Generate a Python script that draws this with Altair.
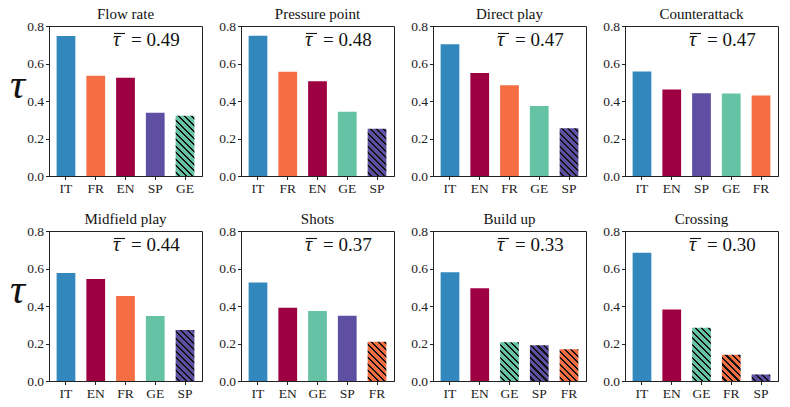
import altair as alt

TITLES = ["Flow rate", "Pressure point", "Direct play", "Counterattack",
          "Midfield play", "Shots", "Build up", "Crossing"]
ORDERS = [
    ["IT", "FR", "EN", "SP", "GE"],
    ["IT", "FR", "EN", "GE", "SP"],
    ["IT", "EN", "FR", "GE", "SP"],
    ["IT", "EN", "SP", "GE", "FR"],
    ["IT", "EN", "FR", "GE", "SP"],
    ["IT", "EN", "GE", "SP", "FR"],
    ["IT", "EN", "GE", "SP", "FR"],
    ["IT", "EN", "GE", "FR", "SP"],
]
VALUES = [
    [0.747, 0.535, 0.524, 0.338, 0.322],
    [0.748, 0.556, 0.505, 0.343, 0.252],
    [0.703, 0.550, 0.484, 0.373, 0.255],
    [0.558, 0.462, 0.441, 0.440, 0.430],
    [0.576, 0.544, 0.453, 0.347, 0.272],
    [0.525, 0.391, 0.373, 0.348, 0.210],
    [0.580, 0.495, 0.207, 0.191, 0.169],
    [0.684, 0.382, 0.284, 0.140, 0.035],
]
HATCHED = [["GE"], ["SP"], ["SP"], [], ["SP"], ["FR"],
           ["GE", "SP", "FR"], ["GE", "FR", "SP"]]
MEANS = [0.49, 0.48, 0.47, 0.47, 0.44, 0.37, 0.33, 0.30]
COLORS = {"IT": "#3288bd", "FR": "#f46d43", "EN": "#9e0142",
          "SP": "#5e4fa2", "GE": "#66c2a5"}

FONT = "Liberation Serif"
INK = "#111111"
W, H = 153, 150
PI, PO = 0.37, 0.256
YMAX = 0.8
STEP = W / (5 - PI + 2 * PO)
BW = STEP * (1 - PI)
PERIOD, LINE, PHASE = 6.5, 2.2, 3.0


def hatch(color, v):
    w = BW
    h = max(v / YMAX * H, 0.5)
    S = w + h
    a = w * (w + h) / (w * w + h * h)
    y2 = 1 - a * h / w
    stops = [{"offset": 0, "color": color}]
    s0 = PHASE
    while s0 < S:
        s1 = min(s0 + LINE, S)
        o0, o1 = round(s0 / S, 5), round(s1 / S, 5)
        stops += [{"offset": o0, "color": color}, {"offset": o0, "color": INK},
                  {"offset": o1, "color": INK}, {"offset": o1, "color": color}]
        s0 += PERIOD
    stops.append({"offset": 1, "color": color})
    return {"gradient": "linear", "x1": 0, "y1": 1, "x2": round(a, 5),
            "y2": round(y2, 5), "stops": stops}


def panel(i, first):
    recs = []
    for c, v in zip(ORDERS[i], VALUES[i]):
        f = hatch(COLORS[c], v) if c in HATCHED[i] else COLORS[c]
        recs.append({"c": c, "v": v, "f": f})
    yaxis = alt.Axis(values=[0, 0.2, 0.4, 0.6, 0.8], format=".1f",
                     title="τ" if first else "", titleAngle=0,
                     titleFont=FONT, titleFontSize=42, titleFontStyle="italic",
                     titleFontWeight="normal", titleColor=INK,
                     titleAlign="center", titleBaseline="alphabetic",
                     titleX=-32, titleY=71)
    bars = alt.Chart(alt.Data(values=recs)).mark_bar().encode(
        x=alt.X("c:N", sort=ORDERS[i],
                scale=alt.Scale(paddingInner=PI, paddingOuter=PO),
                axis=alt.Axis(title="", labelAngle=0)),
        y=alt.Y("v:Q", scale=alt.Scale(domain=[0, YMAX]), axis=yaxis),
        fill=alt.Fill("f:N", scale=None),
    )
    ann = alt.Data(values=[{"tau": "τ", "eq": f"= {MEANS[i]:.2f}"}])
    tau = alt.Chart(ann).mark_text(
        align="left", baseline="alphabetic", font=FONT, fontSize=20,
        fontStyle="italic", color=INK
    ).encode(text="tau:N", x=alt.value(64), y=alt.value(20))
    bar_over = alt.Chart(ann).mark_rule(color=INK, strokeWidth=1.1).encode(
        x=alt.value(65), x2=alt.value(76), y=alt.value(7.5))
    eq = alt.Chart(ann).mark_text(
        align="left", baseline="alphabetic", font=FONT, fontSize=19, color=INK
    ).encode(text="eq:N", x=alt.value(82), y=alt.value(20))
    return alt.layer(bars, tau, bar_over, eq).properties(
        width=W, height=H,
        title=alt.TitleParams(TITLES[i], font=FONT, fontSize=15,
                              fontWeight="normal", color=INK, offset=-3))


row1 = alt.hconcat(*[panel(i, i == 0) for i in range(4)], spacing=15)
row2 = alt.hconcat(*[panel(i, i == 4) for i in range(4, 8)], spacing=15)
chart = alt.vconcat(row1, row2, spacing=15).properties(
    padding={"left": 8, "top": 6, "right": 5, "bottom": 5}
).configure_view(stroke="#222", strokeWidth=1).configure_axis(
    grid=False, domainColor="#222", tickColor="#222", tickSize=3.5,
    labelFont=FONT, labelFontSize=13.5, labelColor="#222", labelPadding=2,
)
chart.save("out.html", embed_options={"renderer": "svg", "actions": False})
